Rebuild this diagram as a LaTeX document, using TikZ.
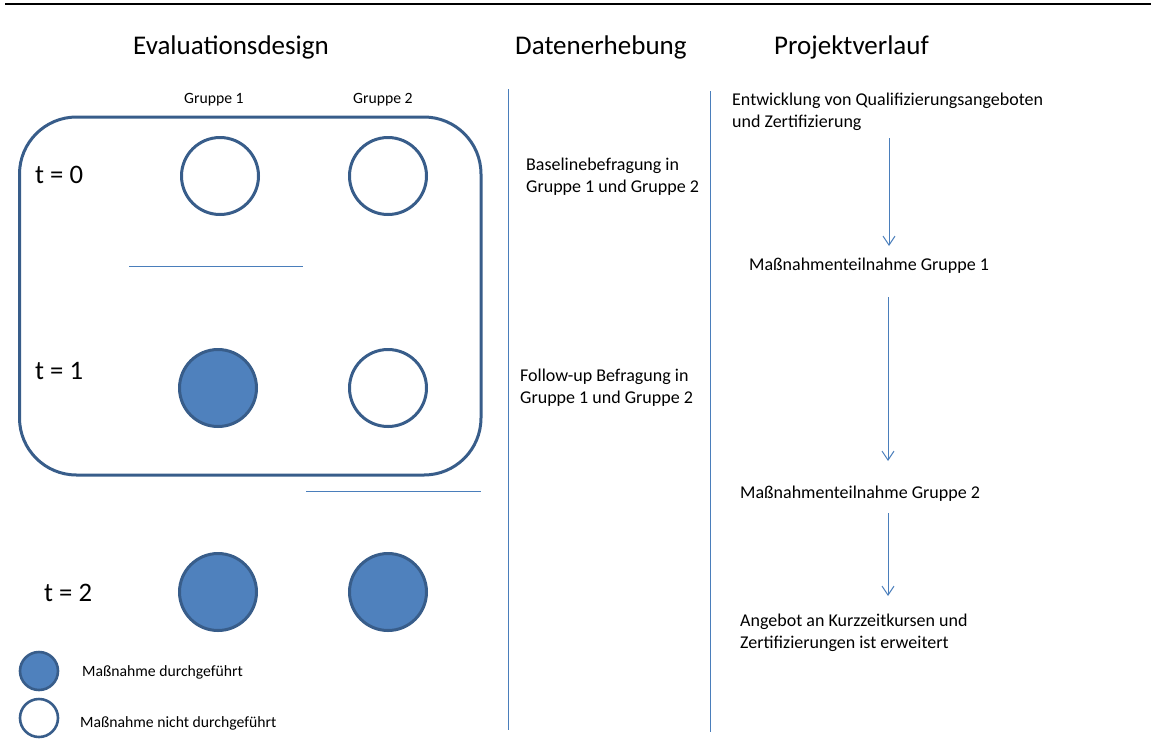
\documentclass[tikz,border=0pt]{standalone}
\usepackage{fontspec}
\setmainfont{Carlito}
\usetikzlibrary{arrows.meta}
\definecolor{dkblue}{HTML}{385D8A}
\definecolor{midblue}{HTML}{4F81BD}
\definecolor{lnblue}{HTML}{4A7EBB}
\begin{document}
\begin{tikzpicture}[x=1pt,y=-1pt,
  heading/.style={anchor=base west,inner sep=0pt,font=\fontsize{27}{32}\selectfont},
  body/.style={anchor=base west,inner sep=0pt,align=left,font=\fontsize{18}{21.7}\selectfont},
  small/.style={anchor=base west,inner sep=0pt,font=\fontsize{15.7}{19}\selectfont},
  tlabel/.style={anchor=base west,inner sep=0pt,font=\fontsize{26.7}{32}\selectfont},
  empt/.style={circle,draw=dkblue,line width=3pt,fill=white,minimum size=77pt,inner sep=0pt},
  full/.style={empt,fill=midblue},
  lempt/.style={circle,draw=dkblue,line width=2.6pt,fill=white,minimum size=38pt,inner sep=0pt},
  lfull/.style={lempt,fill=midblue},
  thin/.style={draw=lnblue,line width=1pt},
  flow/.style={thin,-{Straight Barb[length=9pt,width=12pt]}}]
\useasboundingbox (0,0) rectangle (1151,740);
% top rule
\draw[line width=2pt] (5,4) -- (1151,4);
% headings
\node[heading] (h1) at (133,54) {Evaluationsdesign};
\node[heading] (h2) at (515,54) {Datenerhebung};
\node[heading] (h3) at (774,54) {Projektverlauf};
% group labels
\node[small] (g1) at (184,103) {Gruppe 1};
\node[small] (g2) at (353,103) {Gruppe 2};
% rounded frame
\draw[draw=dkblue,line width=3pt,rounded corners=57pt] (19.5,117) rectangle (481,475);
% time labels
\node[tlabel] (t0) at (35,183) {t = 0};
\node[tlabel] (t1) at (35,379) {t = 1};
\node[tlabel] (t2) at (44,601) {t = 2};
% circles
\node[empt] (c01) at (220,176) {};
\node[empt] (c02) at (388,176) {};
\node[full] (c11) at (218,388) {};
\node[empt] (c12) at (388,388) {};
\node[full] (c21) at (218,592) {};
\node[full] (c22) at (388,592) {};
% separator lines
\coordinate (s1a) at (129,266);
\coordinate (s1b) at (303,266);
\coordinate (s2a) at (306,491);
\coordinate (s2b) at (481,491);
\draw[thin] (s1a) -- (s1b);
\draw[thin] (s2a) -- (s2b);
% legend
\node[lfull] (lf) at (39,671) {};
\node[lempt] (le) at (39,718) {};
\node[small] (lft) at (82,676) {Maßnahme durchgeführt};
\node[small] (let) at (80,727) {Maßnahme nicht durchgeführt};
% column rules
\coordinate (v1a) at (508.5,89);
\coordinate (v1b) at (508.5,730);
\coordinate (v2a) at (710.5,91);
\coordinate (v2b) at (710.5,732);
\draw[thin] (v1a) -- (v1b);
\draw[thin] (v2a) -- (v2b);
% Datenerhebung (base anchor = last line)
\node[body] (d1) at (526,192) {Baselinebefragung in\\Gruppe 1 und Gruppe 2};
\node[body] (d2) at (520,403) {Follow-up Befragung in\\Gruppe 1 und Gruppe 2};
% Projektverlauf
\node[body] (p1) at (732,127) {Entwicklung von Qualifizierungsangeboten\\und Zertifizierung};
\node[body] (p2) at (749,270) {Maßnahmenteilnahme Gruppe 1};
\node[body] (p3) at (740,498) {Maßnahmenteilnahme Gruppe 2};
\node[body] (p4) at (740,648) {Angebot an Kurzzeitkursen und\\Zertifizierungen ist erweitert};
\coordinate (a1s) at (889,138);
\coordinate (a1e) at (889,246);
\coordinate (a2s) at (888,297);
\coordinate (a2e) at (888,461);
\coordinate (a3s) at (888,513);
\coordinate (a3e) at (888,596);
\draw[flow] (a1s) -- (a1e);
\draw[flow] (a2s) -- (a2e);
\draw[flow] (a3s) -- (a3e);
\end{tikzpicture}
\end{document}
